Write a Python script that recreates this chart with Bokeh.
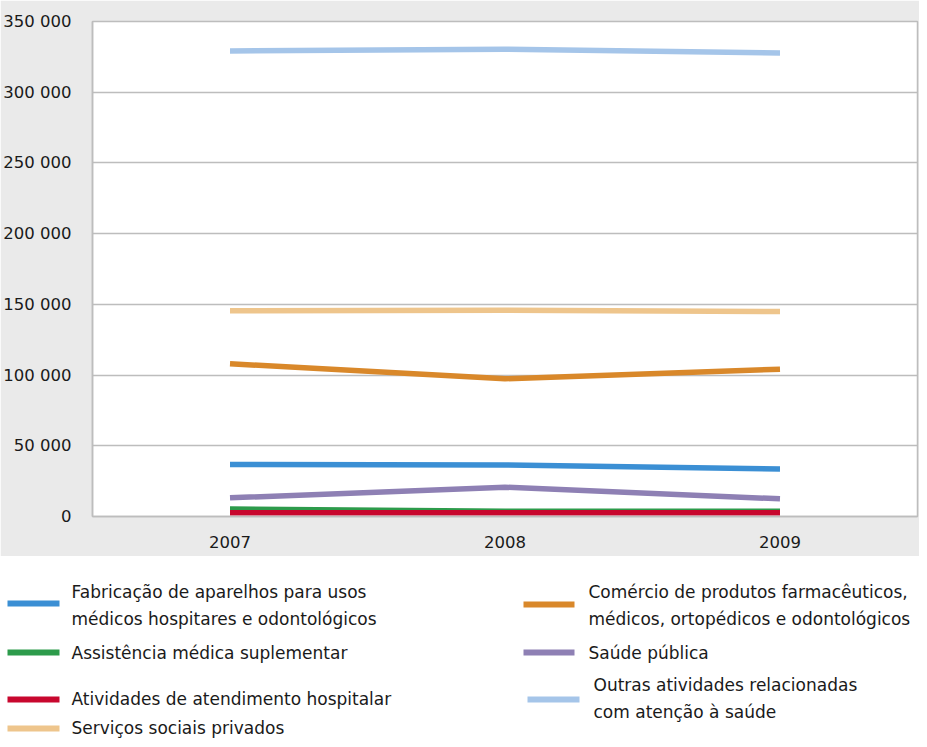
from bokeh.plotting import figure
from bokeh.layouts import column, row
from bokeh.models import FactorRange, Range1d, FixedTicker
from bokeh.core.properties import value
from bokeh.embed import file_html
from bokeh.resources import INLINE

years = ["2007", "2008", "2009"]

fabricacao = [36700, 36500, 33600]
assistencia = [5300, 3800, 3700]
atividades = [2600, 2600, 2600]
servicos = [145400, 145800, 144900]
comercio = [108000, 97400, 104200]
saude_publica = [13200, 20700, 12500]
outras = [329200, 330400, 327800]

series_names = [
    "Fabricação de aparelhos para usos\nmédicos hospitares e odontológicos",
    "Assistência médica suplementar",
    "Atividades de atendimento hospitalar",
    "Serviços sociais privados",
    "Comércio de produtos farmacêuticos,\nmédicos, ortopédicos e odontológicos",
    "Saúde pública",
    "Outras atividades relacionadas\ncom atenção à saúde",
]
series_values = [fabricacao, assistencia, atividades, servicos, comercio, saude_publica, outras]
series_colors = ["#3B8FD4", "#2D9B4B", "#C8072E", "#EEC58C", "#D9882A", "#8E80B4", "#A5C5E9"]

y_ticks = [0, 50000, 100000, 150000, 200000, 250000, 300000, 350000]
y_tick_labels = ["0", "50 000", "100 000", "150 000", "200 000", "250 000", "300 000", "350 000"]

FONT = "DejaVu Sans"
GRAY_BG = "#EAEAEA"
LINE_GRAY = "#BDBDBD"

W = 919
TOP_H = 556
BOT_H = 183

p = figure(width=W, height=TOP_H, x_range=FactorRange(factors=years, range_padding=0),
           y_range=Range1d(0, 350000), output_backend="svg", toolbar_location=None,
           min_border_left=92, min_border_right=2, min_border_top=21, min_border_bottom=40)
p.border_fill_color = GRAY_BG
p.background_fill_color = "white"
p.outline_line_color = LINE_GRAY
p.outline_line_width = 1.5

p.xgrid.grid_line_color = None
p.ygrid.grid_line_color = LINE_GRAY
p.ygrid.grid_line_width = 1.5
p.yaxis.ticker = FixedTicker(ticks=y_ticks)
p.yaxis.major_label_overrides = {t: l for t, l in zip(y_ticks, y_tick_labels)}

for ax in (p.xaxis, p.yaxis):
    ax.major_tick_line_color = None
    ax.minor_tick_line_color = None
    ax.axis_line_color = LINE_GRAY
    ax.axis_line_width = 1.5
    ax.major_label_text_font = FONT
    ax.major_label_text_font_size = "16.5px"
    ax.major_label_text_color = "#1A1A1A"
p.yaxis.major_label_standoff = 15
p.xaxis.major_label_standoff = 13

draw_order = [6, 3, 4, 0, 5, 1, 2]
for i in draw_order:
    p.line(years, series_values[i], line_color=series_colors[i], line_width=5.5)

# legend panel (coordinates in pixels of the legend panel)
leg = figure(width=W, height=BOT_H, x_range=Range1d(0, W), y_range=Range1d(BOT_H, 0),
             output_backend="svg", toolbar_location=None,
             min_border_left=0, min_border_right=0, min_border_top=0, min_border_bottom=0)
leg.axis.visible = False
leg.grid.visible = False
leg.outline_line_color = None
leg.background_fill_color = "white"
leg.border_fill_color = "white"

# (line x0, line x1, line y, text x, text y) per series
leg_pos = [
    (7, 59, 47, 71, 49),
    (7, 59, 96, 71, 96),
    (7, 59, 143, 71, 142),
    (7, 59, 172, 71, 171),
    (523, 574, 48, 588, 49),
    (523, 574, 96, 588, 96),
    (527, 579, 143, 593, 142),
]
for i, (x0, x1, ly, tx, ty) in enumerate(leg_pos):
    leg.line([x0, x1], [ly, ly], line_color=series_colors[i], line_width=6)
    leg.text([tx], [ty], text=[series_names[i]], text_font=value(FONT), text_font_size="17px",
             text_baseline="middle", text_align="left", text_color="#1A1A1A",
             text_line_height=1.32)

layout = column(p, row(leg), spacing=0)
open("out.html", "w").write(file_html(layout, INLINE))
